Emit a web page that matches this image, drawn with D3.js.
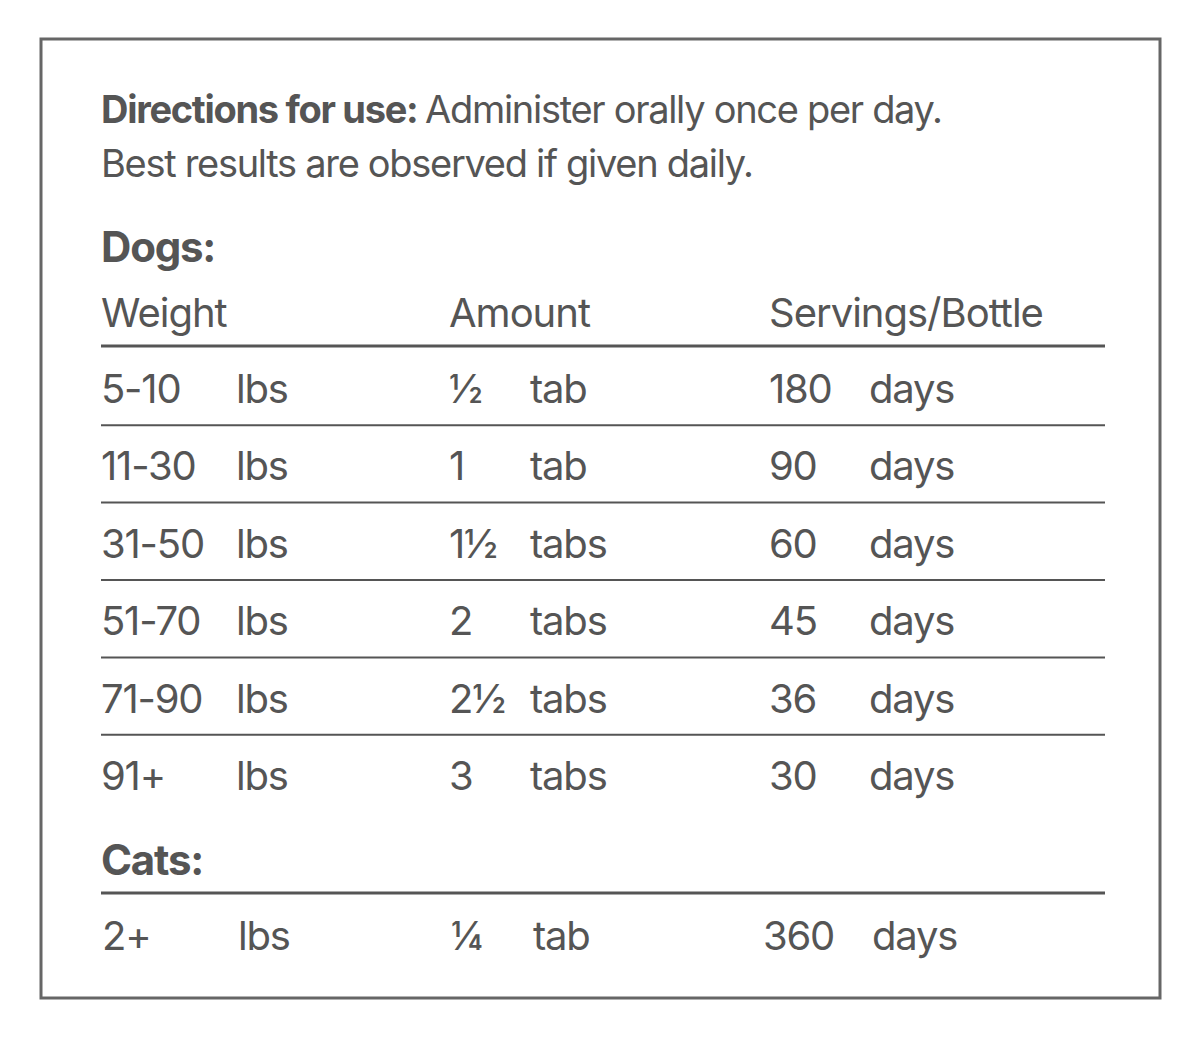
<!DOCTYPE html>
<html><head><meta charset="utf-8">
<script src="https://cdn.jsdelivr.net/npm/d3@7"></script>
<style>body{margin:0;background:#fff}</style>
</head><body>
<svg id="c" width="1200" height="1040"></svg>
<script>
const dogWeights = ["5-10","11-30","31-50","51-70","71-90","91+"];
const dogAmounts = ["½","1","1½","2","2½","3"];
const dogAmountUnits = ["tab","tab","tabs","tabs","tabs","tabs"];
const dogServings = ["180","90","60","45","36","30"];
const catWeights = ["2+"];
const catAmounts = ["¼"];
const catAmountUnits = ["tab"];
const catServings = ["360"];
const headers = ["Weight","Amount","Servings/Bottle"];

const svg = d3.select("#c");
const col = "#555";
const font = "Inter, 'Liberation Sans', sans-serif";
svg.append("rect").attr("x",41).attr("y",39).attr("width",1119).attr("height",959)
  .attr("fill","none").attr("stroke","#666").attr("stroke-width",3);

const t = (x,y,s,size,w,ls) => svg.append("text").attr("x",x).attr("y",y).text(s)
  .attr("font-family",font).attr("font-size",size).attr("font-weight",w||400)
  .attr("letter-spacing",ls==null?-1.2:ls).attr("fill",col);

const l1 = svg.append("text").attr("x",101).attr("y",123).attr("font-family",font)
  .attr("font-size",38).attr("letter-spacing",-1.3).attr("fill",col);
l1.append("tspan").attr("font-weight",700).text("Directions for use: ");
l1.append("tspan").text("Administer orally once per day.");
t(101,177,"Best results are observed if given daily.",38,400,-1.3);

t(101,262,"Dogs:",42,700);
const colX = [101,449,769];
headers.forEach((h,i)=>t(colX[i],327,h,40,400,-1));

const line = (y,w) => svg.append("line").attr("x1",101).attr("x2",1105).attr("y1",y).attr("y2",y)
  .attr("stroke","#555").attr("stroke-width",w);
line(346,3);

const y = d3.scaleLinear().domain([0,5]).range([403,790]);
dogWeights.forEach((w,i)=>{
  const yy = y(i);
  t(101,yy,w,40); t(236,yy,"lbs",40);
  t(449,yy,dogAmounts[i],40); t(530,yy,dogAmountUnits[i],40);
  t(769,yy,dogServings[i],40); t(869,yy,"days",40);
  if(i<5) line((y(i)+y(i+1))/2-16.5,2);
});
t(101,875,"Cats:",42,700);
line(893,3);
catWeights.forEach((w,i)=>{
  const yy=950;
  t(102,yy,w,40); t(238,yy,"lbs",40);
  t(451,yy,catAmounts[i],40); t(533,yy,catAmountUnits[i],40);
  t(763,yy,catServings[i],40); t(872,yy,"days",40);
});
</script>
</body></html>
